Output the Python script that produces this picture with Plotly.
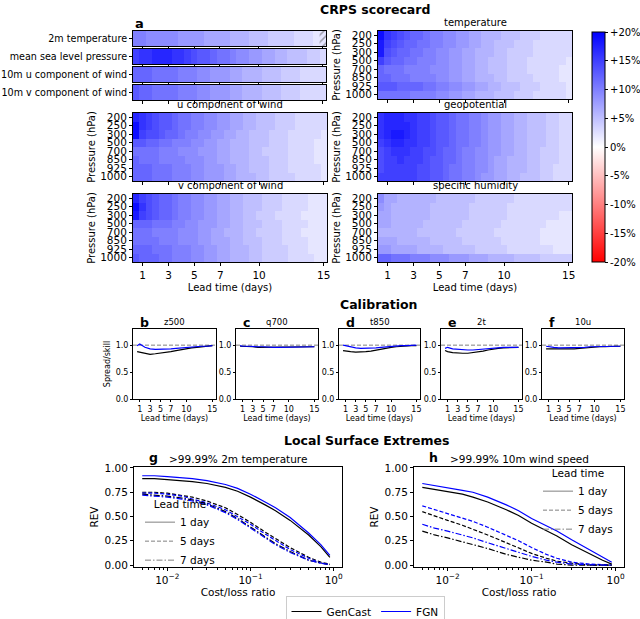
import plotly.graph_objects as go

W, H = 640, 619
FONT = "DejaVu Sans"

# ---------------- data ----------------
lead_days = [0.5, 1.0, 1.5, 2.0, 2.5, 3.0, 3.5, 4.0, 4.5, 5.0, 5.5, 6.0, 6.5, 7.0, 7.5,
             8.0, 8.5, 9.0, 9.5, 10.0, 10.5, 11.0, 11.5, 12.0, 12.5, 13.0, 13.5, 14.0, 14.5, 15.0]
lead_ticks = [1, 3, 5, 7, 10, 15]
levels = ["200", "250", "300", "500", "700", "850", "925", "1000"]

surface_names = ["2m temperature", "mean sea level pressure",
                 "10m u component of wind", "10m v component of wind"]
t2m = [10, 10, 9, 9, 9, 9, 9, 8, 8, 8, 8, 7, 7, 7, 7, 6, 6, 6, 5, 5, 5, 4, 4, 4, 4, 3, 3, 3, 2, 2]
msl = [15, 16, 16, 17, 17, 17, 16, 16, 15, 14, 13, 13, 12, 11, 11, 10, 9, 9, 8, 8, 7, 7, 6, 6, 5, 5, 5, 4, 4, 3]
u10 = [12, 12, 12, 11, 11, 11, 11, 10, 10, 10, 9, 9, 8, 8, 8, 7, 7, 6, 6, 6, 5, 5, 5, 4, 4, 4, 3, 3, 3, 3]
v10 = [13, 12, 12, 11, 11, 11, 11, 10, 10, 10, 9, 9, 8, 8, 8, 7, 7, 6, 6, 6, 5, 5, 5, 4, 4, 4, 3, 3, 3, 3]
hatched_t2m = [15.0]   # lead times where the 2m temperature difference is not significant

temperature = [
    [19, 16, 15, 14, 13, 12, 12, 11, 10, 10, 9, 9, 8, 8, 7, 7, 6, 6, 6, 5, 5, 5, 4, 4, 4, 3, 3, 3, 3, 3],
    [18, 15, 14, 13, 12, 12, 11, 11, 10, 10, 9, 9, 8, 8, 7, 7, 6, 6, 5, 5, 5, 4, 4, 4, 3, 3, 3, 3, 3, 3],
    [18, 14, 13, 12, 12, 11, 11, 10, 10, 9, 9, 8, 8, 7, 7, 6, 6, 6, 5, 5, 4, 4, 4, 4, 3, 3, 3, 3, 3, 3],
    [15, 13, 12, 12, 11, 11, 10, 10, 10, 9, 9, 8, 8, 7, 7, 6, 6, 5, 5, 5, 4, 4, 4, 3, 3, 3, 3, 3, 3, 2],
    [12, 11, 11, 11, 10, 10, 10, 10, 9, 9, 9, 8, 8, 7, 7, 6, 6, 5, 5, 5, 4, 4, 4, 3, 3, 3, 3, 3, 2, 2],
    [12, 12, 11, 11, 11, 10, 10, 10, 10, 9, 9, 8, 8, 7, 7, 6, 6, 6, 5, 5, 4, 4, 4, 4, 3, 3, 3, 3, 2, 2],
    [13, 13, 13, 12, 12, 12, 12, 11, 11, 10, 10, 9, 9, 8, 8, 7, 7, 6, 6, 5, 5, 5, 4, 4, 4, 3, 3, 3, 3, 2],
    [11, 11, 11, 11, 11, 10, 10, 10, 10, 9, 9, 8, 8, 7, 7, 6, 6, 6, 5, 5, 5, 4, 4, 4, 3, 3, 3, 3, 3, 2],
]
u_wind = [
    [17, 16, 15, 14, 13, 13, 12, 11, 11, 10, 10, 9, 9, 8, 8, 7, 7, 6, 6, 5, 5, 5, 4, 4, 4, 3, 3, 3, 3, 3],
    [19, 16, 15, 14, 13, 13, 12, 11, 11, 10, 10, 9, 9, 8, 8, 7, 7, 6, 6, 5, 5, 5, 4, 4, 4, 3, 3, 3, 3, 3],
    [19, 15, 14, 14, 13, 12, 12, 11, 10, 10, 9, 9, 8, 8, 7, 7, 6, 6, 5, 5, 5, 4, 4, 4, 3, 3, 3, 3, 3, 2],
    [13, 13, 12, 12, 11, 11, 10, 10, 10, 9, 9, 8, 8, 7, 7, 6, 6, 6, 5, 5, 5, 4, 4, 4, 3, 3, 3, 3, 2, 2],
    [11, 11, 11, 11, 10, 10, 10, 9, 9, 9, 8, 8, 8, 7, 7, 6, 6, 6, 5, 5, 4, 4, 4, 4, 3, 3, 3, 3, 2, 2],
    [12, 11, 11, 11, 10, 10, 10, 10, 9, 9, 9, 8, 8, 7, 7, 6, 6, 6, 5, 5, 5, 4, 4, 4, 3, 3, 3, 3, 2, 2],
    [12, 12, 12, 11, 11, 11, 10, 10, 10, 9, 9, 8, 8, 8, 7, 7, 6, 6, 5, 5, 5, 4, 4, 4, 3, 3, 3, 3, 3, 2],
    [12, 12, 12, 11, 11, 11, 10, 10, 10, 9, 9, 8, 8, 8, 7, 7, 6, 6, 6, 5, 5, 4, 4, 4, 4, 3, 3, 3, 3, 2],
]
v_wind = [
    [17, 15, 14, 13, 12, 12, 11, 10, 10, 9, 9, 8, 8, 7, 7, 6, 6, 5, 5, 5, 4, 4, 4, 3, 3, 3, 3, 2, 2, 2],
    [19, 16, 14, 13, 12, 12, 11, 10, 10, 9, 9, 8, 8, 7, 7, 6, 6, 5, 5, 5, 4, 4, 4, 3, 3, 3, 3, 2, 2, 2],
    [18, 15, 14, 13, 12, 12, 11, 10, 10, 9, 9, 8, 8, 7, 7, 6, 6, 5, 5, 4, 4, 4, 3, 3, 3, 3, 2, 2, 2, 2],
    [12, 12, 12, 11, 11, 11, 10, 10, 9, 9, 8, 8, 8, 7, 7, 6, 6, 5, 5, 5, 4, 4, 4, 3, 3, 3, 3, 2, 2, 2],
    [11, 11, 11, 10, 10, 10, 10, 9, 9, 9, 8, 8, 7, 7, 6, 6, 6, 5, 5, 4, 4, 4, 4, 3, 3, 3, 2, 2, 2, 2],
    [11, 11, 11, 11, 10, 10, 10, 9, 9, 9, 8, 8, 7, 7, 7, 6, 6, 5, 5, 5, 4, 4, 4, 3, 3, 3, 3, 2, 2, 2],
    [12, 12, 12, 11, 11, 11, 10, 10, 10, 9, 9, 8, 8, 7, 7, 6, 6, 6, 5, 5, 4, 4, 4, 4, 3, 3, 3, 2, 2, 2],
    [13, 12, 12, 12, 11, 11, 10, 10, 10, 9, 9, 8, 8, 7, 7, 6, 6, 6, 5, 5, 4, 4, 4, 4, 3, 3, 3, 3, 2, 2],
]
geopotential = [
    [16, 17, 17, 17, 16, 16, 15, 15, 14, 13, 13, 12, 11, 11, 10, 10, 9, 8, 8, 7, 7, 6, 6, 5, 5, 5, 4, 4, 3, 3],
    [16, 17, 17, 17, 17, 16, 15, 15, 14, 13, 13, 12, 11, 11, 10, 10, 9, 8, 8, 7, 7, 6, 6, 5, 5, 5, 4, 4, 3, 3],
    [16, 17, 18, 18, 17, 16, 15, 15, 14, 13, 13, 12, 11, 11, 10, 10, 9, 8, 8, 7, 7, 6, 6, 5, 5, 5, 4, 4, 3, 3],
    [15, 16, 17, 17, 16, 16, 15, 15, 14, 13, 13, 12, 11, 11, 10, 10, 9, 8, 8, 7, 7, 6, 6, 5, 5, 5, 4, 4, 3, 3],
    [14, 15, 16, 16, 16, 15, 15, 14, 14, 13, 12, 12, 11, 10, 10, 9, 9, 8, 8, 7, 7, 6, 6, 5, 5, 4, 4, 4, 3, 3],
    [14, 15, 15, 16, 15, 15, 15, 14, 13, 13, 12, 12, 11, 10, 10, 9, 9, 8, 7, 7, 6, 6, 6, 5, 5, 4, 4, 4, 3, 3],
    [14, 15, 15, 15, 15, 15, 14, 14, 13, 13, 12, 11, 11, 10, 10, 9, 9, 8, 7, 7, 6, 6, 6, 5, 5, 4, 4, 3, 3, 3],
    [15, 15, 15, 15, 15, 15, 14, 14, 13, 13, 12, 11, 11, 10, 10, 9, 8, 8, 7, 7, 6, 6, 5, 5, 5, 4, 4, 3, 3, 3],
]
specific_humidity = [
    [9, 7, 7, 6, 6, 6, 6, 6, 6, 5, 5, 5, 5, 5, 5, 4, 4, 4, 4, 4, 4, 3, 3, 3, 3, 3, 3, 3, 3, 3],
    [8, 7, 6, 6, 6, 6, 6, 6, 5, 5, 5, 5, 5, 5, 4, 4, 4, 4, 4, 4, 3, 3, 3, 3, 3, 3, 3, 3, 3, 3],
    [7, 7, 6, 6, 6, 6, 6, 6, 5, 5, 5, 5, 5, 5, 4, 4, 4, 4, 4, 4, 3, 3, 3, 3, 3, 3, 3, 3, 2, 2],
    [7, 7, 6, 6, 6, 6, 6, 5, 5, 5, 5, 5, 5, 4, 4, 4, 4, 4, 4, 3, 3, 3, 3, 3, 3, 3, 2, 2, 2, 2],
    [6, 6, 6, 6, 6, 6, 5, 5, 5, 5, 5, 5, 4, 4, 4, 4, 4, 4, 3, 3, 3, 3, 3, 3, 3, 2, 2, 2, 2, 2],
    [7, 7, 7, 6, 6, 6, 6, 6, 5, 5, 5, 5, 5, 4, 4, 4, 4, 4, 4, 3, 3, 3, 3, 3, 3, 2, 2, 2, 2, 2],
    [8, 8, 7, 7, 7, 7, 6, 6, 6, 6, 5, 5, 5, 5, 5, 4, 4, 4, 4, 4, 3, 3, 3, 3, 3, 3, 3, 2, 2, 2],
    [12, 12, 11, 11, 11, 10, 10, 10, 9, 9, 9, 8, 8, 8, 7, 7, 7, 6, 6, 6, 6, 5, 5, 5, 5, 4, 4, 4, 4, 4],
]
cbar_vals = [-20, -15, -10, -5, 0, 5, 10, 15, 20]
cbar_text = ["-20%", "-15%", "-10%", "-5%", "0%", "+5%", "+10%", "+15%", "+20%"]

# calibration (spread/skill)
cal_lead = [0.5, 1, 2, 3, 4, 5, 6, 7, 8, 9, 10, 11, 12, 13, 14, 15]
cal_vars = ["z500", "q700", "t850", "2t", "10u"]
cal_letters = ["b", "c", "d", "e", "f"]
cal_fgn = {
    "z500": [0.99, 1.02, 0.96, 0.93, 0.92, 0.92, 0.93, 0.93, 0.94, 0.95, 0.96, 0.97, 0.97, 0.98, 0.98, 0.99],
    "q700": [0.99, 0.98, 0.98, 0.97, 0.97, 0.97, 0.96, 0.96, 0.96, 0.96, 0.96, 0.96, 0.97, 0.97, 0.97, 0.97],
    "t850": [1.00, 0.99, 0.96, 0.95, 0.94, 0.94, 0.94, 0.95, 0.96, 0.97, 0.98, 0.98, 0.99, 0.99, 1.00, 1.00],
    "2t":   [0.94, 0.96, 0.93, 0.92, 0.91, 0.91, 0.91, 0.92, 0.93, 0.94, 0.95, 0.95, 0.96, 0.96, 0.96, 0.96],
    "10u":  [0.98, 0.97, 0.96, 0.95, 0.95, 0.95, 0.95, 0.96, 0.96, 0.97, 0.97, 0.98, 0.98, 0.98, 0.98, 0.98],
}
cal_gencast = {
    "z500": [0.88, 0.87, 0.84, 0.83, 0.84, 0.85, 0.87, 0.88, 0.90, 0.92, 0.94, 0.95, 0.96, 0.97, 0.98, 0.99],
    "q700": [0.98, 0.98, 0.97, 0.97, 0.96, 0.96, 0.96, 0.96, 0.96, 0.96, 0.96, 0.96, 0.96, 0.96, 0.97, 0.97],
    "t850": [0.90, 0.89, 0.88, 0.87, 0.87, 0.88, 0.89, 0.91, 0.93, 0.94, 0.96, 0.97, 0.98, 0.98, 0.99, 0.99],
    "2t":   [0.90, 0.88, 0.86, 0.85, 0.85, 0.85, 0.86, 0.87, 0.89, 0.91, 0.93, 0.94, 0.95, 0.95, 0.96, 0.96],
    "10u":  [0.93, 0.93, 0.92, 0.92, 0.92, 0.93, 0.93, 0.94, 0.95, 0.96, 0.96, 0.97, 0.97, 0.98, 0.98, 0.98],
}
perfect_ratio = 1.0

# relative economic value
cost_loss = [0.005, 0.007, 0.01, 0.015, 0.02, 0.03, 0.05, 0.07, 0.1, 0.15, 0.2, 0.3, 0.5, 0.7, 0.9]
rev_leads = ["1 day", "5 days", "7 days"]
rev_t2m_gencast = {
    "1 day":  [0.89, 0.89, 0.88, 0.87, 0.86, 0.84, 0.80, 0.76, 0.70, 0.62, 0.56, 0.46, 0.31, 0.19, 0.08],
    "5 days": [0.75, 0.75, 0.74, 0.72, 0.70, 0.66, 0.59, 0.52, 0.44, 0.34, 0.27, 0.18, 0.08, 0.03, 0.01],
    "7 days": [0.73, 0.72, 0.71, 0.69, 0.67, 0.63, 0.55, 0.48, 0.39, 0.29, 0.22, 0.14, 0.05, 0.02, 0.005],
}
rev_t2m_fgn = {
    "1 day":  [0.92, 0.92, 0.91, 0.90, 0.89, 0.87, 0.83, 0.79, 0.73, 0.65, 0.59, 0.49, 0.33, 0.21, 0.10],
    "5 days": [0.74, 0.74, 0.73, 0.71, 0.68, 0.64, 0.57, 0.50, 0.42, 0.32, 0.25, 0.16, 0.07, 0.02, 0.005],
    "7 days": [0.72, 0.71, 0.70, 0.68, 0.66, 0.62, 0.54, 0.47, 0.38, 0.28, 0.21, 0.13, 0.05, 0.02, 0.005],
}
rev_ws_gencast = {
    "1 day":  [0.80, 0.78, 0.76, 0.73, 0.70, 0.65, 0.57, 0.51, 0.43, 0.35, 0.30, 0.21, 0.11, 0.05, 0.01],
    "5 days": [0.55, 0.51, 0.46, 0.41, 0.37, 0.31, 0.23, 0.18, 0.12, 0.07, 0.04, 0.02, 0.0, 0.0, 0.0],
    "7 days": [0.35, 0.31, 0.28, 0.24, 0.21, 0.17, 0.11, 0.08, 0.05, 0.03, 0.01, 0.0, 0.0, 0.0, 0.0],
}
rev_ws_fgn = {
    "1 day":  [0.84, 0.82, 0.80, 0.77, 0.75, 0.70, 0.62, 0.56, 0.48, 0.40, 0.35, 0.26, 0.15, 0.08, 0.03],
    "5 days": [0.61, 0.57, 0.53, 0.48, 0.45, 0.39, 0.31, 0.25, 0.18, 0.11, 0.07, 0.03, 0.01, 0.0, 0.0],
    "7 days": [0.42, 0.38, 0.35, 0.31, 0.28, 0.23, 0.17, 0.13, 0.09, 0.05, 0.03, 0.01, 0.0, 0.0, 0.0],
}

# ---------------- helpers ----------------
def xd(x0, x1):
    return [x0 / W, x1 / W]

def yd(y0, y1):
    return [1 - y1 / H, 1 - y0 / H]

base_axis = dict(showline=True, linecolor="black", linewidth=1, mirror=True,
                 ticks="outside", ticklen=3, tickwidth=0.8, tickcolor="black",
                 showgrid=False, zeroline=False, fixedrange=True, automargin=False)

fig = go.Figure()
layout = {}
annotations = []
shapes = []

def ann(text, x, y, size=10, bold=False, xanchor="center", yanchor="middle", angle=0):
    annotations.append(dict(text=f"<b>{text}</b>" if bold else text, x=x / W, y=1 - y / H,
                            xref="paper", yref="paper", showarrow=False,
                            xanchor=xanchor, yanchor=yanchor, textangle=angle,
                            font=dict(family=FONT, size=size, color="black")))

# ---------------- panel a: surface strips ----------------
strip_y = [(31, 46), (49, 64), (67, 82), (85, 100)]
for i, (name, vals) in enumerate(zip(surface_names, [t2m, msl, u10, v10])):
    k = i + 1
    fig.add_trace(go.Heatmap(z=[vals], x=lead_days, y=[0], coloraxis="coloraxis",
                             xaxis=f"x{k}", yaxis=f"y{k}", hoverinfo="skip"))
    layout[f"xaxis{k}"] = dict(base_axis, domain=xd(133, 326), anchor=f"y{k}",
                               range=[0.25, 15.25], tickvals=lead_ticks, showticklabels=False)
    layout[f"yaxis{k}"] = dict(base_axis, domain=yd(*strip_y[i]), anchor=f"x{k}",
                               range=[-0.5, 0.5], tickvals=[0], ticktext=[name],
                               tickfont=dict(family=FONT, size=9.6, color="black"))
    if i == 0:
        fig.add_trace(go.Bar(x=hatched_t2m, y=[1] * len(hatched_t2m), base=[-0.5] * len(hatched_t2m),
                             width=[0.5] * len(hatched_t2m), xaxis="x1", yaxis="y1",
                             marker=dict(color="rgba(255,255,255,0)", line=dict(width=0),
                                         pattern=dict(shape="/", fgcolor="#555555", bgcolor="rgba(255,255,255,0)",
                                                      size=5, solidity=0.3, fillmode="overlay")),
                             showlegend=False, hoverinfo="skip"))

# ---------------- pressure-level heatmaps ----------------
panels = [
    (5, "temperature", temperature, (378, 572), (31, 99), False),
    (6, "u component of wind", u_wind, (133, 327), (113, 181), False),
    (7, "geopotential", geopotential, (378, 572), (113, 181), False),
    (8, "v component of wind", v_wind, (133, 327), (194, 262), True),
    (9, "specific humidity", specific_humidity, (378, 572), (194, 262), True),
]
lev_idx = list(range(len(levels)))
for k, title, z, (x0, x1), (y0, y1), bottom in panels:
    fig.add_trace(go.Heatmap(z=z, x=lead_days, y=lev_idx, coloraxis="coloraxis",
                             xaxis=f"x{k}", yaxis=f"y{k}", hoverinfo="skip"))
    xa = dict(base_axis, domain=xd(x0, x1), anchor=f"y{k}", range=[0.25, 15.25],
              tickvals=lead_ticks, showticklabels=bottom,
              tickfont=dict(family=FONT, size=10.5, color="black"))
    if bottom:
        xa["title"] = dict(text="Lead time (days)", font=dict(family=FONT, size=10, color="black"),
                           standoff=4)
    layout[f"xaxis{k}"] = xa
    layout[f"yaxis{k}"] = dict(base_axis, domain=yd(y0, y1), anchor=f"x{k}",
                               range=[len(levels) - 0.5, -0.5], tickvals=lev_idx, ticktext=levels,
                               tickfont=dict(family=FONT, size=10.5, color="black"),
                               title=dict(text="Pressure (hPa)", standoff=2,
                                          font=dict(family=FONT, size=10, color="black")))
    ann(title, (x0 + x1) / 2, y0 - 1, size=10, yanchor="bottom")

layout["coloraxis"] = dict(
    cmin=-20, cmax=20,
    colorscale=[[0, "rgb(255,0,0)"], [0.5, "rgb(255,255,255)"], [1, "rgb(0,0,255)"]],
    colorbar=dict(x=592 / W, xanchor="left", y=1 - 32 / H, yanchor="top",
                  len=230 / H, lenmode="fraction", thickness=13, thicknessmode="pixels",
                  outlinecolor="black", outlinewidth=1, ticks="outside", ticklen=3,
                  tickcolor="black", tickvals=cbar_vals, ticktext=cbar_text,
                  tickfont=dict(family=FONT, size=10, color="black"), xpad=0, ypad=0))

ann("CRPS scorecard", 375, 9, size=12.5, bold=True)
ann("a", 133, 24, size=13, bold=True, xanchor="left")

# ---------------- calibration ----------------
ann("Calibration", 378, 305, size=12.5, bold=True)
cal_x = [(133, 216), (236, 318), (339, 420), (441, 522), (542, 624)]
for j, var in enumerate(cal_vars):
    k = 10 + j
    x0, x1 = cal_x[j]
    fig.add_trace(go.Scatter(x=cal_lead, y=cal_gencast[var], mode="lines",
                             line=dict(color="black", width=1.2), xaxis=f"x{k}", yaxis=f"y{k}",
                             showlegend=False, hoverinfo="skip"))
    fig.add_trace(go.Scatter(x=cal_lead, y=cal_fgn[var], mode="lines",
                             line=dict(color="blue", width=1.2), xaxis=f"x{k}", yaxis=f"y{k}",
                             showlegend=False, hoverinfo="skip"))
    layout[f"xaxis{k}"] = dict(base_axis, domain=xd(x0, x1), anchor=f"y{k}", range=[-0.3, 15.7],
                               tickvals=lead_ticks, ticklen=2,
                               tickfont=dict(family=FONT, size=8, color="black"),
                               title=dict(text="Lead time (days)", standoff=2,
                                          font=dict(family=FONT, size=8, color="black")))
    ya = dict(base_axis, domain=yd(329, 399), anchor=f"x{k}", range=[0, 1.3],
              tickvals=[0, 0.5, 1.0], ticktext=["0.0", "0.5", "1.0"], ticklen=2,
              tickfont=dict(family=FONT, size=8, color="black"))
    if j == 0:
        ya["title"] = dict(text="Spread/skill", standoff=3, font=dict(family=FONT, size=8, color="black"))
    layout[f"yaxis{k}"] = ya
    shapes.append(dict(type="line", xref=f"x{k} domain", yref=f"y{k}", x0=0, x1=1,
                       y0=perfect_ratio, y1=perfect_ratio, layer="below",
                       line=dict(color="gray", width=1, dash="4px,2px")))
    ann(cal_letters[j], x0 + 5, 322, size=12.5, bold=True, xanchor="left")
    ann(var, (x0 + x1) / 2, 322, size=8.5)

# ---------------- local surface extremes ----------------
ann("Local Surface Extremes", 366, 440, size=12.5, bold=True)
dashes = {"1 day": "solid", "5 days": "4px,2px", "7 days": "6px,2px,1.5px,2px"}
rev_panels = [
    (15, "g", ">99.99% 2m temperature", rev_t2m_gencast, rev_t2m_fgn, (134, 342), "legend2"),
    (16, "h", ">99.99% 10m wind speed", rev_ws_gencast, rev_ws_fgn, (414, 624), "legend3"),
]
minor_vals = [0.005, 0.006, 0.007, 0.008, 0.009,
              0.02, 0.03, 0.04, 0.05, 0.06, 0.07, 0.08, 0.09,
              0.2, 0.3, 0.4, 0.5, 0.6, 0.7, 0.8, 0.9]
for k, letter, title, gen, fgn, (x0, x1), leg in rev_panels:
    for li, lt in enumerate(rev_leads):
        fig.add_trace(go.Scatter(x=cost_loss, y=gen[lt], mode="lines", name="GenCast",
                                 line=dict(color="black", width=1.2, dash=dashes[lt]),
                                 xaxis=f"x{k}", yaxis=f"y{k}", hoverinfo="skip",
                                 showlegend=(k == 15 and li == 0), legend="legend"))
        fig.add_trace(go.Scatter(x=cost_loss, y=fgn[lt], mode="lines", name="FGN",
                                 line=dict(color="blue", width=1.2, dash=dashes[lt]),
                                 xaxis=f"x{k}", yaxis=f"y{k}", hoverinfo="skip",
                                 showlegend=(k == 15 and li == 0), legend="legend"))
    for lt in rev_leads:
        fig.add_trace(go.Scatter(x=[None], y=[None], mode="lines", name=lt,
                                 line=dict(color="gray", width=1, dash=dashes[lt]),
                                 xaxis=f"x{k}", yaxis=f"y{k}", legend=leg, hoverinfo="skip"))
    layout[f"xaxis{k}"] = dict(base_axis, domain=xd(x0, x1), anchor=f"y{k}", type="log",
                               range=[-2.4, 0.1], tickvals=[0.01, 0.1, 1],
                               ticktext=["10<sup>−2</sup>", "10<sup>−1</sup>", "10<sup>0</sup>"],
                               tickfont=dict(family=FONT, size=10.5, color="black"),
                               minor=dict(tickvals=minor_vals, ticks="outside", ticklen=2,
                                          tickcolor="black", showgrid=False),
                               title=dict(text="Cost/loss ratio", standoff=2,
                                          font=dict(family=FONT, size=10.5, color="black")))
    layout[f"yaxis{k}"] = dict(base_axis, domain=yd(467, 567), anchor=f"x{k}", range=[-0.02, 1.01],
                               tickvals=[0, 0.25, 0.5, 0.75, 1.0],
                               ticktext=["0.00", "0.25", "0.50", "0.75", "1.00"],
                               tickfont=dict(family=FONT, size=10.5, color="black"),
                               title=dict(text="REV", standoff=3,
                                          font=dict(family=FONT, size=10.5, color="black")))
    ann(letter, x0 + 13, 457, size=12.5, bold=True, xanchor="left")
    ann(title, (x0 + x1) / 2, 459, size=10.5)

leg_font = dict(family=FONT, size=10.5, color="black")
layout["legend"] = dict(orientation="h", x=365 / W, xanchor="center", y=1 - 596 / H, yanchor="top",
                        bordercolor="#cccccc", borderwidth=1, bgcolor="white", font=leg_font,
                        itemwidth=30)
layout["legend2"] = dict(x=140 / W, xanchor="left", y=1 - 494 / H, yanchor="top",
                         bgcolor="rgba(255,255,255,0)", font=leg_font, itemwidth=30,
                         title=dict(text="Lead time", side="top center", font=leg_font),
                         tracegroupgap=0)
layout["legend3"] = dict(x=618 / W, xanchor="right", y=1 - 463 / H, yanchor="top",
                         bgcolor="rgba(255,255,255,0)", font=leg_font, itemwidth=30,
                         title=dict(text="Lead time", side="top center", font=leg_font),
                         tracegroupgap=0)

fig.update_layout(width=W, height=H,
                  margin=dict(l=0, r=0, t=0, b=0, pad=0, autoexpand=False),
                  paper_bgcolor="white", plot_bgcolor="white",
                  font=dict(family=FONT, size=10, color="black"),
                  annotations=annotations, shapes=shapes, **layout)

fig.write_html("out.html", config={"displayModeBar": False},
               post_script="document.body.style.margin='0px';document.body.style.overflow='hidden';")
